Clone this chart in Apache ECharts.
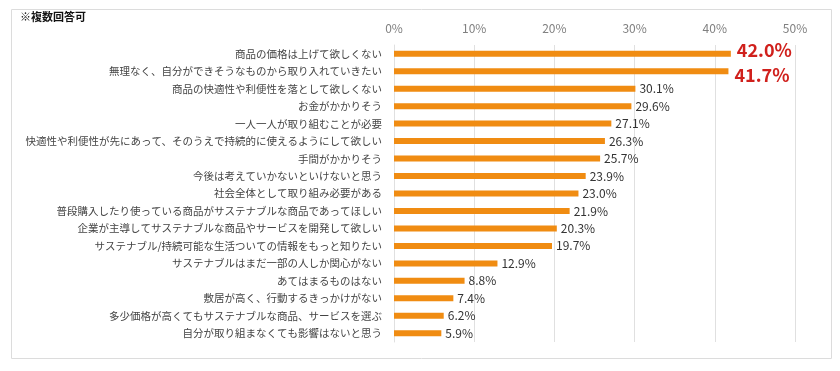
<!DOCTYPE html>
<html><head><meta charset="utf-8">
<script src="https://cdn.jsdelivr.net/npm/echarts@6/dist/echarts.min.js"></script>
<style>html,body{margin:0;padding:0;background:#fff}#c{width:840px;height:371px}</style>
</head><body><div id="c"></div>
<script>
const categories = [
  '商品の価格は上げて欲しくない',
  '無理なく、自分ができそうなものから取り入れていきたい',
  '商品の快適性や利便性を落として欲しくない',
  'お金がかかりそう',
  '一人一人が取り組むことが必要',
  '快適性や利便性が先にあって、そのうえで持続的に使えるようにして欲しい',
  '手間がかかりそう',
  '今後は考えていかないといけないと思う',
  '社会全体として取り組み必要がある',
  '普段購入したり使っている商品がサステナブルな商品であってほしい',
  '企業が主導してサステナブルな商品やサービスを開発して欲しい',
  'サステナブル/持続可能な生活ついての情報をもっと知りたい',
  'サステナブルはまだ一部の人しか関心がない',
  'あてはまるものはない',
  '敷居が高く、行動するきっかけがない',
  '多少価格が高くてもサステナブルな商品、サービスを選ぶ',
  '自分が取り組まなくても影響はないと思う'
];
const values = [42.0, 41.7, 30.1, 29.6, 27.1, 26.3, 25.7, 23.9, 23.0, 21.9, 20.3, 19.7, 12.9, 8.8, 7.4, 6.2, 5.9];
const highlighted = [0, 1];
const highlightOffsets = [[0, -4], [0, 4]];
const note = '※複数回答可';

const font = '"Noto Sans CJK JP", "Noto Sans", sans-serif';
const data = values.map((v, i) => {
  const hi = highlighted.indexOf(i);
  if (hi >= 0) {
    return {value: v, label: {fontSize: 18, fontWeight: 'bold', color: '#d0201c', offset: highlightOffsets[hi], distance: 6}};
  }
  return v;
});

const chart = echarts.init(document.getElementById('c'), null, {renderer: 'canvas'});
chart.setOption({
  animation: false,
  graphic: [
    {type: 'rect', shape: {x: 11.5, y: 9.5, width: 820, height: 349}, style: {fill: 'none', stroke: '#dcdcdc', lineWidth: 1}},
    {type: 'text', left: 20, top: 11, style: {text: note, font: 'bold 11px ' + font, fill: '#111'}}
  ],
  grid: {left: 394, right: 45, top: 45, bottom: 29, containLabel: false},
  xAxis: {
    type: 'value', position: 'top', min: 0, max: 50, interval: 10,
    axisLabel: {formatter: '{value}%', color: '#808080', fontSize: 12, fontFamily: font, margin: 11},
    splitLine: {show: true, lineStyle: {color: '#e0e0e0', width: 1}},
    axisLine: {show: false}, axisTick: {show: false}
  },
  yAxis: {
    type: 'category', data: categories, inverse: true,
    axisLine: {show: true, lineStyle: {color: '#e0e0e0'}},
    axisTick: {show: false},
    axisLabel: {color: '#444', fontSize: 10.5, fontFamily: font, margin: 12}
  },
  series: [{
    type: 'bar', data: data, barWidth: 6,
    itemStyle: {color: '#f08c12'},
    label: {show: true, position: 'right', distance: 4, formatter: p => p.value.toFixed(1) + '%', color: '#333', fontSize: 12, fontFamily: font}
  }]
});
</script></body></html>
